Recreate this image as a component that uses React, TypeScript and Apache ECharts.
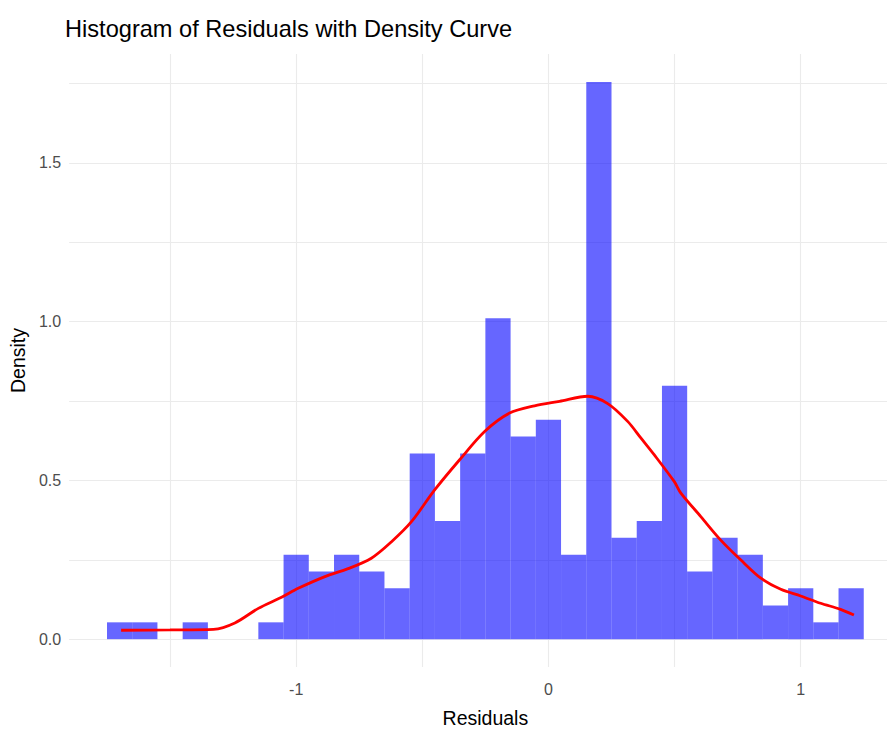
import React, { useEffect, useRef } from "react";
import * as echarts from "echarts";

// Histogram bins (centers, binwidth 0.1) and their densities
const binWidth = 0.1;
const binCenters = [
  -1.7, -1.6, -1.5, -1.4, -1.3, -1.2, -1.1, -1.0, -0.9, -0.8,
  -0.7, -0.6, -0.5, -0.4, -0.3, -0.2, -0.1, 0.0, 0.1, 0.2,
  0.3, 0.4, 0.5, 0.6, 0.7, 0.8, 0.9, 1.0, 1.1, 1.2,
];
const binDensities = [
  0.053, 0.053, 0, 0.053, 0, 0, 0.053, 0.266, 0.213, 0.266,
  0.213, 0.16, 0.585, 0.372, 0.585, 1.011, 0.638, 0.691, 0.266, 1.755,
  0.319, 0.372, 0.798, 0.213, 0.319, 0.266, 0.106, 0.16, 0.053, 0.16,
];

// Density curve points
const curveX = [
  -1.694, -1.5, -1.328, -1.243, -1.15, -1.058, -0.992, -0.886, -0.794, -0.702,
  -0.622, -0.543, -0.451, -0.352, -0.253, -0.154, -0.055, 0.044, 0.156, 0.235,
  0.314, 0.367, 0.419, 0.499, 0.525, 0.604, 0.683, 0.763, 0.842, 0.921,
  1.0, 1.079, 1.158, 1.211,
];
const curveY = [
  0.028, 0.029, 0.031, 0.051, 0.097, 0.132, 0.16, 0.197, 0.222, 0.255,
  0.307, 0.37, 0.47, 0.565, 0.654, 0.712, 0.735, 0.749, 0.765, 0.742,
  0.686, 0.633, 0.581, 0.496, 0.46, 0.386, 0.312, 0.249, 0.192, 0.157,
  0.136, 0.113, 0.094, 0.076,
];

// Axis ticks
const xGridValues = [-1.5, -1, -0.5, 0, 0.5, 1];
const xLabelValues = [-1, 0, 1];
const yGridValues = [0, 0.25, 0.5, 0.75, 1, 1.25, 1.5, 1.75];
const yLabelValues = [0, 0.5, 1, 1.5];

const FONT = "Liberation Sans, Arial, sans-serif";

export default function App() {
  const ref = useRef<HTMLDivElement>(null);

  useEffect(() => {
    document.body.style.margin = "0";
    const chart = echarts.init(ref.current!, undefined, { renderer: "svg" });
    const histData = binCenters.map((c, i) => [c, binDensities[i]]);
    const curveData = curveX.map((x, i) => [x, curveY[i]]);

    chart.setOption({
      animation: false,
      backgroundColor: "#ffffff",
      title: {
        text: "Histogram of Residuals with Density Curve",
        left: 60,
        top: 12,
        textStyle: { fontSize: 23.6, fontWeight: "normal", color: "#000000", fontFamily: FONT },
      },
      grid: { left: 65, top: 54, width: 836.6, height: 613.3, containLabel: false },
      xAxis: {
        type: "value",
        min: -1.9,
        max: 1.4,
        name: "Residuals",
        nameLocation: "middle",
        nameGap: 41,
        nameTextStyle: { fontSize: 19.5, color: "#000000", fontFamily: FONT },
        axisLine: { show: false, onZero: false },
        axisTick: { show: false, customValues: xGridValues },
        axisLabel: {
          customValues: xLabelValues,
          fontSize: 16,
          color: "#4D4D4D",
          fontFamily: FONT,
          margin: 14,
          formatter: (v: number) => String(v),
        },
        splitLine: { show: true, lineStyle: { color: "#EBEBEB", width: 1.1 } },
      },
      yAxis: {
        type: "value",
        min: -0.0877,
        max: 1.843,
        name: "Density",
        nameLocation: "middle",
        nameRotate: 90,
        nameGap: 29,
        nameTextStyle: { fontSize: 19.5, color: "#000000", fontFamily: FONT },
        axisLine: { show: false, onZero: false },
        axisTick: { show: false, customValues: yGridValues },
        axisLabel: {
          customValues: yLabelValues,
          fontSize: 16,
          color: "#4D4D4D",
          fontFamily: FONT,
          margin: 8,
          formatter: (v: number) => v.toFixed(1),
        },
        splitLine: { show: true, lineStyle: { color: "#EBEBEB", width: 1.1 } },
      },
      series: [
        {
          type: "custom",
          name: "Histogram",
          data: histData,
          z: 2,
          renderItem: (params: any, api: any) => {
            const c = api.value(0);
            const h = api.value(1);
            if (!h) return null;
            const p0 = api.coord([c - binWidth / 2, h]);
            const p1 = api.coord([c + binWidth / 2, 0]);
            return {
              type: "rect",
              shape: { x: p0[0], y: p0[1], width: p1[0] - p0[0], height: p1[1] - p0[1] },
              style: { fill: "rgba(0,0,255,0.6)" },
            };
          },
        },
        {
          type: "line",
          name: "Density",
          data: curveData,
          z: 3,
          smooth: 0.3,
          showSymbol: false,
          symbol: "none",
          lineStyle: { color: "#FF0000", width: 2.8 },
        },
      ],
    });

    return () => chart.dispose();
  }, []);

  return (
    <div style={{ width: 887, height: 733, overflow: "hidden", position: "relative" }}>
      <div ref={ref} style={{ width: 910, height: 733 }} />
    </div>
  );
}
